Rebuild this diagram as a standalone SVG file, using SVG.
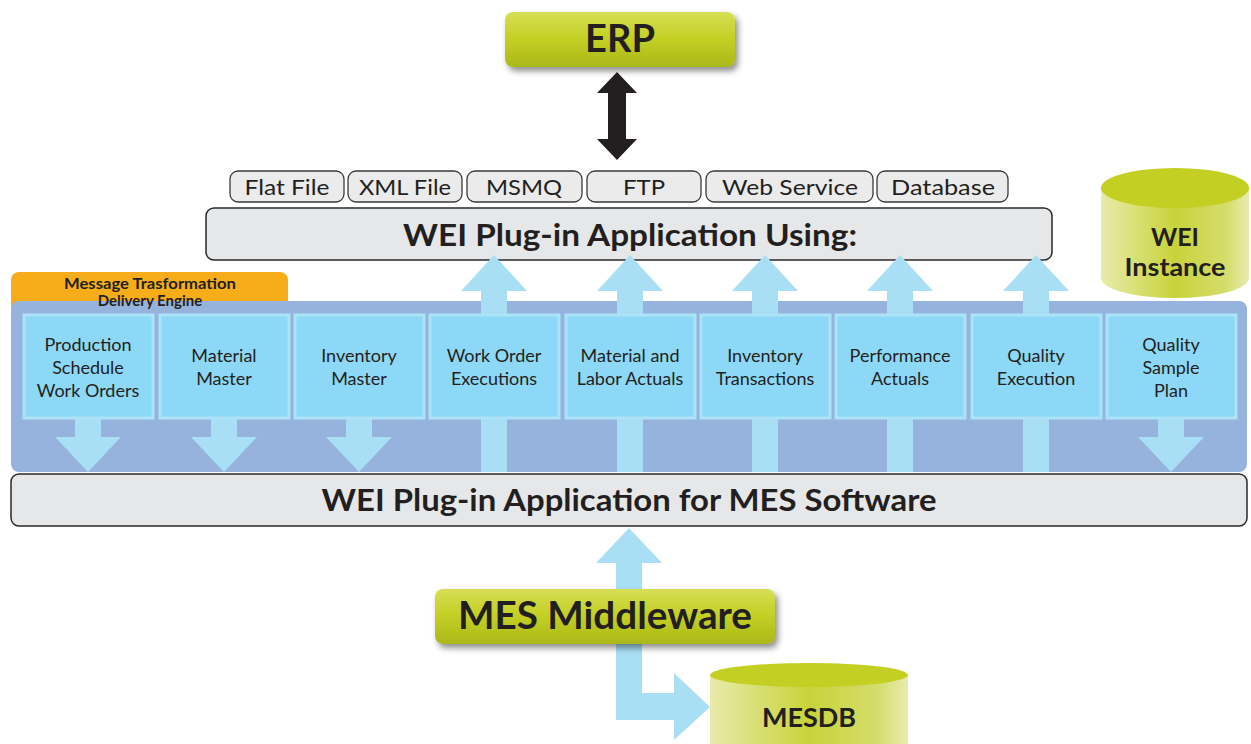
<svg xmlns="http://www.w3.org/2000/svg" width="1251" height="744" viewBox="0 0 1251 744">
<defs>
<style>
.t{font-family:Lato,"Open Sans","Liberation Sans",sans-serif;fill:#231f20;text-anchor:middle}
.b{font-weight:bold}
.m{font-size:18px}
.p{font-size:22px}
.mod{fill:#8dd8f6;stroke:#ace3f7;stroke-width:3}
.arr{fill:#a9dff4}
.proto{fill:#ebebec;stroke:#3a3a3a;stroke-width:1.3}
.bar{fill:#e6e7e8;stroke:#2a2a2a;stroke-width:1.5}
</style>
<filter id="sh" x="-10%" y="-30%" width="125%" height="180%">
<feDropShadow dx="3" dy="4" stdDeviation="3" flood-color="#000" flood-opacity="0.45"/>
</filter>
<linearGradient id="gl" x1="0" y1="0" x2="0" y2="1">
<stop offset="0" stop-color="#d6df55"/>
<stop offset="0.5" stop-color="#c3cf22"/>
<stop offset="1" stop-color="#aab81c"/>
</linearGradient>
<linearGradient id="cyl" x1="0" y1="0" x2="1" y2="0">
<stop offset="0" stop-color="#e8ebaa"/>
<stop offset="0.5" stop-color="#c8d33a"/>
<stop offset="0.85" stop-color="#d5dd6c"/>
<stop offset="1" stop-color="#e9ecb0"/>
</linearGradient>
</defs>

<g id="connectors">
<polygon fill="#231f20" points="617,72 637,93 626,93 626,139 637,139 617,160 597,139 608,139 608,93 597,93"/>
<polygon class="arr" points="629,528 662,563 642,563 642,693 674,693 674,673 710,707 674,740 674,720 616,720 616,563 596,563"/>
</g>

<g id="erp"><rect x="505" y="12" width="230" height="55" rx="8" fill="url(#gl)" filter="url(#sh)"/><text class="t b" x="620" y="52" font-size="38">ERP</text></g>

<g id="protocols">
<g id="p-flat"><rect class="proto" x="230" y="171" width="114" height="31" rx="8"/><text class="t p" x="287" y="195" textLength="85" lengthAdjust="spacingAndGlyphs">Flat File</text></g>
<g id="p-xml"><rect class="proto" x="348" y="171" width="114" height="31" rx="8"/><text class="t p" x="405" y="195" textLength="92" lengthAdjust="spacingAndGlyphs">XML File</text></g>
<g id="p-msmq"><rect class="proto" x="467" y="171" width="115" height="31" rx="8"/><text class="t p" x="524" y="195" textLength="76" lengthAdjust="spacingAndGlyphs">MSMQ</text></g>
<g id="p-ftp"><rect class="proto" x="587" y="171" width="114" height="31" rx="8"/><text class="t p" x="644" y="195" textLength="42" lengthAdjust="spacingAndGlyphs">FTP</text></g>
<g id="p-web"><rect class="proto" x="706" y="171" width="167" height="31" rx="8"/><text class="t p" x="790" y="195" textLength="136" lengthAdjust="spacingAndGlyphs">Web Service</text></g>
<g id="p-db"><rect class="proto" x="877" y="171" width="131" height="31" rx="8"/><text class="t p" x="943" y="195" textLength="104" lengthAdjust="spacingAndGlyphs">Database</text></g>
</g>

<g id="plugin-using"><rect class="bar" x="206" y="208" width="846" height="52" rx="8"/><text class="t b" x="630" y="246" font-size="30" textLength="454" lengthAdjust="spacingAndGlyphs">WEI Plug-in Application Using:</text></g>

<g id="wei-instance">
<path d="M1101,188 L1101,278 A74,20 0 0 0 1249,278 L1249,188 Z" fill="url(#cyl)"/>
<ellipse cx="1175" cy="188" rx="74" ry="20" fill="#c3cf22"/>
<text class="t b" x="1175" y="246" font-size="25">WEI</text>
<text class="t b" x="1175" y="276" font-size="25" textLength="101" lengthAdjust="spacingAndGlyphs">Instance</text>
</g>

<g id="engine">
<rect x="11" y="272" width="277" height="41" rx="8" fill="#f7ad1a"/>
<rect x="11" y="301" width="1236" height="171" rx="8" fill="#95b3dd"/>
<text class="t b" x="150" y="289" font-size="15" textLength="172" lengthAdjust="spacingAndGlyphs">Message Trasformation</text>
<text class="t b" x="150" y="306" font-size="15">Delivery Engine</text>
</g>

<g id="flow-arrows">
<polygon class="arr" points="75,418 101,418 101,437 121,437 88,472 55,437 75,437"/>
<polygon class="arr" points="211,418 237,418 237,437 257,437 224,472 191,437 211,437"/>
<polygon class="arr" points="346,418 372,418 372,437 392,437 359,472 326,437 346,437"/>
<polygon class="arr" points="1158,418 1184,418 1184,437 1204,437 1171,472 1138,437 1158,437"/>
<polygon class="arr" points="481,472 507,472 507,291 527,291 494,255 461,291 481,291"/>
<polygon class="arr" points="617,472 643,472 643,291 663,291 630,255 597,291 617,291"/>
<polygon class="arr" points="752,472 778,472 778,291 798,291 765,255 732,291 752,291"/>
<polygon class="arr" points="887,472 913,472 913,291 933,291 900,255 867,291 887,291"/>
<polygon class="arr" points="1023,472 1049,472 1049,291 1069,291 1036,255 1003,291 1023,291"/>
</g>

<g id="m1"><rect class="mod" x="24" y="315" width="129" height="103"/><text class="t m" x="88" y="351">Production</text><text class="t m" x="88" y="374">Schedule</text><text class="t m" x="88" y="397">Work Orders</text></g>
<g id="m2"><rect class="mod" x="160" y="315" width="129" height="103"/><text class="t m" x="224" y="362">Material</text><text class="t m" x="224" y="385">Master</text></g>
<g id="m3"><rect class="mod" x="295" y="315" width="129" height="103"/><text class="t m" x="359" y="362">Inventory</text><text class="t m" x="359" y="385">Master</text></g>
<g id="m4"><rect class="mod" x="430" y="315" width="129" height="103"/><text class="t m" x="494" y="362">Work Order</text><text class="t m" x="494" y="385">Executions</text></g>
<g id="m5"><rect class="mod" x="566" y="315" width="129" height="103"/><text class="t m" x="630" y="362">Material and</text><text class="t m" x="630" y="385">Labor Actuals</text></g>
<g id="m6"><rect class="mod" x="701" y="315" width="129" height="103"/><text class="t m" x="765" y="362">Inventory</text><text class="t m" x="765" y="385">Transactions</text></g>
<g id="m7"><rect class="mod" x="836" y="315" width="129" height="103"/><text class="t m" x="900" y="362">Performance</text><text class="t m" x="900" y="385">Actuals</text></g>
<g id="m8"><rect class="mod" x="972" y="315" width="129" height="103"/><text class="t m" x="1036" y="362">Quality</text><text class="t m" x="1036" y="385">Execution</text></g>
<g id="m9"><rect class="mod" x="1107" y="315" width="129" height="103"/><text class="t m" x="1171" y="351">Quality</text><text class="t m" x="1171" y="374">Sample</text><text class="t m" x="1171" y="397">Plan</text></g>

<g id="plugin-mes"><rect class="bar" x="11" y="474" width="1236" height="52" rx="8"/><text class="t b" x="629" y="511" font-size="30" textLength="615" lengthAdjust="spacingAndGlyphs">WEI Plug-in Application for MES Software</text></g>

<g id="mes-middleware"><rect x="435" y="589" width="340" height="55" rx="8" fill="url(#gl)" filter="url(#sh)"/><text class="t b" x="605" y="629" font-size="38" textLength="294" lengthAdjust="spacingAndGlyphs">MES Middleware</text></g>

<g id="mesdb">
<path d="M710,675 L710,744 L908,744 L908,675 Z" fill="url(#cyl)"/>
<ellipse cx="809" cy="675" rx="99" ry="12" fill="#c3cf22"/>
<text class="t b" x="809" y="727" font-size="27">MESDB</text>
</g>
</svg>
